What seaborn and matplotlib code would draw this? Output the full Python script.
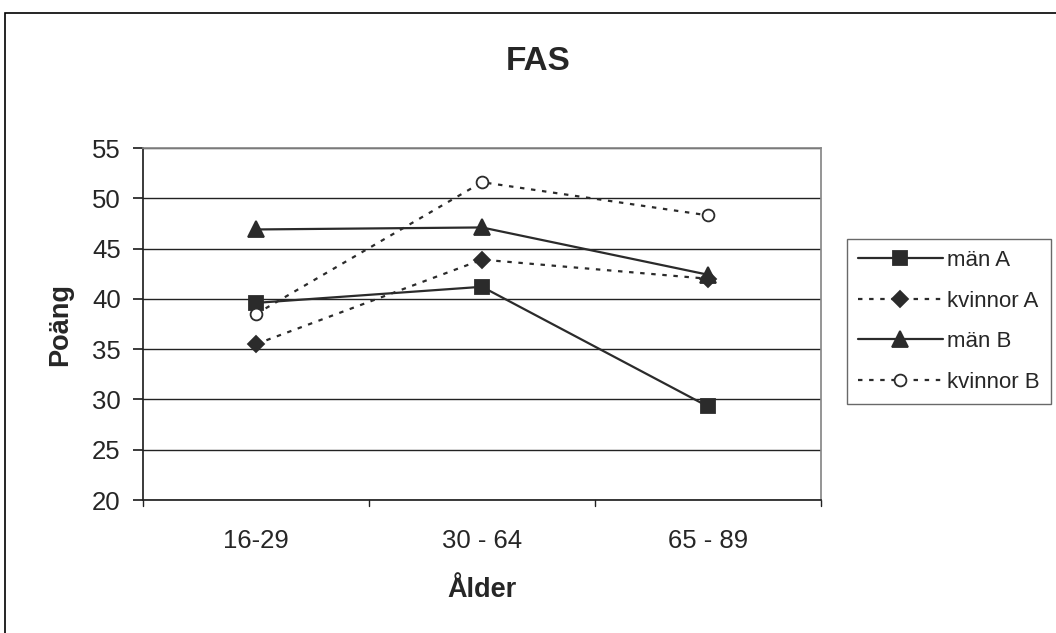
import matplotlib
matplotlib.use("Agg")
import matplotlib.pyplot as plt
import seaborn as sns
import pandas as pd
from matplotlib.patches import Rectangle

categories = ["16-29", "30 - 64", "65 - 89"]
man_a = [39.6, 41.2, 29.3]
kvinnor_a = [35.5, 43.9, 42.0]
man_b = [46.9, 47.1, 42.4]
kvinnor_b = [38.5, 51.6, 48.3]
series_names = ["män A", "kvinnor A", "män B", "kvinnor B"]
yticks = [20, 25, 30, 35, 40, 45, 50, 55]

sns.set_theme(style="white")
plt.rcParams['font.family'] = ['Liberation Sans', 'DejaVu Sans']

fig = plt.figure(figsize=(10.56, 6.33), dpi=100)
ax = fig.add_axes([143/1056, 1-500/633, (821-143)/1056, (500-148)/633])

rows = []
for name, vals in zip(series_names, [man_a, kvinnor_a, man_b, kvinnor_b]):
    for i, v in enumerate(vals):
        rows.append({"serie": name, "pos": i, "val": v})
df = pd.DataFrame(rows)

col = "#2b2b2b"
styles = {
    "män A": dict(ls="-", marker="s", mfc=col, ms=9.5),
    "kvinnor A": dict(ls=(0, (2, 3)), marker="D", mfc=col, ms=8.5),
    "män B": dict(ls="-", marker="^", mfc=col, ms=11.5),
    "kvinnor B": dict(ls=(0, (2, 3)), marker="o", mfc="white", ms=8.5),
}
for name in series_names:
    st = styles[name]
    sub = df[df.serie == name]
    sns.lineplot(data=sub, x="pos", y="val", ax=ax, color=col, lw=1.6,
                 linestyle=st["ls"], marker=st["marker"], markersize=st["ms"],
                 markerfacecolor=st["mfc"], markeredgecolor=col, markeredgewidth=1.3,
                 label=name, legend=False)

ax.set_xlim(-0.5, 2.5)
ax.set_ylim(20, 55)
ax.set_yticks(yticks)
ax.set_yticklabels([str(t) for t in yticks], fontsize=18.5)
ax.yaxis.grid(True, color="#222222", lw=1)
ax.set_axisbelow(True)
ax.set_xticks([0, 1, 2])
ax.set_xticklabels(categories, fontsize=18.5)
ax.tick_params(axis="x", length=0, pad=21)
ax.tick_params(axis="y", length=7, direction="out", left=True, pad=9, color="#222222")
for b in [-0.5, 0.5, 1.5, 2.5]:
    ax.plot([b, b], [0, -0.018], transform=ax.get_xaxis_transform(), clip_on=False,
            color="#222222", lw=1)
for s in ["left", "bottom"]:
    ax.spines[s].set_color("#222222")
for s in ["top", "right"]:
    ax.spines[s].set_color("#888888")

ax.set_xlabel("")
ax.set_ylabel("")
fig.text(482/1056, 1-590/633, "Ålder", ha="center", va="center", fontsize=19.5, fontweight="bold")
fig.text(60/1056, 1-324/633, "Poäng", ha="center", va="center", rotation=90,
         fontsize=19.5, fontweight="bold")
fig.text(538/1056, 1-62/633, "FAS", ha="center", va="center", fontsize=24, fontweight="bold")

leg = ax.legend(loc="upper left", bbox_to_anchor=(847/1056, 1-239/633),
                bbox_transform=fig.transFigure, fontsize=16, frameon=True,
                fancybox=False, handlelength=3.8, handletextpad=0.2,
                labelspacing=0.88, borderpad=0.5, borderaxespad=0)
leg.get_frame().set_edgecolor("#444444")
leg.get_frame().set_linewidth(1)

fig.patches.append(Rectangle((5/1056, -0.1), 1.2, 1.1-13/633, transform=fig.transFigure,
                             fill=False, edgecolor="black", lw=1.2))

fig.savefig("out.png", dpi=100)
